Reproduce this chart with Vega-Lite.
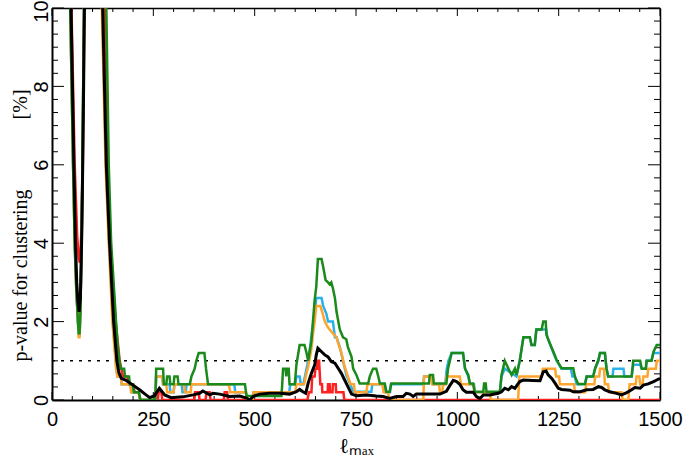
{
  "$schema": "https://vega.github.io/schema/vega-lite/v6.json",
  "width": 608,
  "height": 392,
  "autosize": {"type": "none"},
  "padding": {"left": 52, "top": 8, "right": 29, "bottom": 66},
  "background": "white",
  "config": {"view": {"stroke": null}, "axis": {"domainColor": "black", "tickColor": "black", "labelColor": "black", "titleColor": "black", "grid": false}},
  "resolve": {"axis": {"x": "independent", "y": "independent"}},
  "datasets": {
    "xmaj": [{"t":0},{"t":250},{"t":500},{"t":750},{"t":1000},{"t":1250},{"t":1500}],
    "xmin": [{"t":50},{"t":100},{"t":150},{"t":200},{"t":300},{"t":350},{"t":400},{"t":450},{"t":550},{"t":600},{"t":650},{"t":700},{"t":800},{"t":850},{"t":900},{"t":950},{"t":1050},{"t":1100},{"t":1150},{"t":1200},{"t":1300},{"t":1350},{"t":1400},{"t":1450}],
    "ymaj": [{"v":0},{"v":2},{"v":4},{"v":6},{"v":8},{"v":10}],
    "ymin": [{"v":0.3333},{"v":0.6667},{"v":1},{"v":1.3333},{"v":1.6667},{"v":2.3333},{"v":2.6667},{"v":3},{"v":3.3333},{"v":3.6667},{"v":4.3333},{"v":4.6667},{"v":5},{"v":5.3333},{"v":5.6667},{"v":6.3333},{"v":6.6667},{"v":7},{"v":7.3333},{"v":7.6667},{"v":8.3333},{"v":8.6667},{"v":9},{"v":9.3333},{"v":9.6667}],
    "ref": [{"l": 0, "p": 1}, {"l": 1500, "p": 1}],
    "red": [{"l":40,"p":14},{"l":48,"p":10},{"l":56,"p":6},{"l":62,"p":4.2},{"l":66,"p":3.6},{"l":69,"p":3.5},{"l":72,"p":4.2},{"l":76,"p":6},{"l":80,"p":10},{"l":84,"p":14},{"l":125,"p":14},{"l":130,"p":10},{"l":138,"p":6},{"l":144,"p":4},{"l":157,"p":2},{"l":163,"p":1.4},{"l":167,"p":1.0},{"l":171,"p":0.8},{"l":175,"p":0.6},{"l":186,"p":0.6},{"l":190,"p":0.4},{"l":200,"p":0.4},{"l":204,"p":0.2},{"l":214,"p":0.2},{"l":218,"p":0},{"l":261,"p":0},{"l":263,"p":0.2},{"l":270,"p":0.2},{"l":272,"p":0},{"l":351,"p":0},{"l":353,"p":0.2},{"l":362,"p":0.2},{"l":364,"p":0},{"l":379,"p":0},{"l":381,"p":0.2},{"l":389,"p":0.2},{"l":391,"p":0},{"l":424,"p":0},{"l":426,"p":0.2},{"l":432,"p":0.2},{"l":434,"p":0},{"l":630,"p":0},{"l":634,"p":0.2},{"l":640,"p":0.2},{"l":642,"p":0.6},{"l":648,"p":0.6},{"l":650,"p":0.8},{"l":654,"p":0.8},{"l":655,"p":1.0},{"l":659,"p":1.0},{"l":660,"p":0.8},{"l":662,"p":0.4},{"l":666,"p":0.4},{"l":667,"p":0.2},{"l":680,"p":0.2},{"l":681,"p":0.4},{"l":685,"p":0.4},{"l":686,"p":0.2},{"l":692,"p":0.2},{"l":693,"p":0.4},{"l":700,"p":0.4},{"l":701,"p":0.2},{"l":719,"p":0.2},{"l":721,"p":0},{"l":1500,"p":0}],
    "blue": [{"l":40,"p":14},{"l":45,"p":10},{"l":52,"p":6},{"l":56,"p":4},{"l":60,"p":2.8},{"l":64,"p":2.0},{"l":66,"p":1.65},{"l":68,"p":1.65},{"l":70,"p":2.2},{"l":73,"p":4},{"l":76,"p":7},{"l":79,"p":10},{"l":83,"p":14},{"l":119,"p":14},{"l":124,"p":10},{"l":133,"p":6},{"l":141,"p":4},{"l":150,"p":2},{"l":156,"p":1.2},{"l":159,"p":0.8},{"l":162,"p":0.6},{"l":170,"p":0.6},{"l":172,"p":0.4},{"l":195,"p":0.4},{"l":197,"p":0.2},{"l":214,"p":0.2},{"l":218,"p":0},{"l":255,"p":0},{"l":257,"p":0.6},{"l":272,"p":0.6},{"l":274,"p":0.4},{"l":290,"p":0.4},{"l":292,"p":0.2},{"l":300,"p":0.2},{"l":302,"p":0.4},{"l":320,"p":0.4},{"l":322,"p":0.2},{"l":330,"p":0.2},{"l":332,"p":0.4},{"l":450,"p":0.4},{"l":452,"p":0.2},{"l":478,"p":0.2},{"l":482,"p":0},{"l":495,"p":0},{"l":497,"p":0.2},{"l":585,"p":0.2},{"l":588,"p":0.4},{"l":600,"p":0.4},{"l":603,"p":0.6},{"l":611,"p":0.6},{"l":614,"p":0.4},{"l":620,"p":0.4},{"l":624,"p":0.6},{"l":630,"p":0.9},{"l":636,"p":1.3},{"l":641,"p":1.7},{"l":645,"p":2.0},{"l":648,"p":2.2},{"l":652,"p":2.6},{"l":665,"p":2.6},{"l":669,"p":2.4},{"l":677,"p":2.2},{"l":681,"p":2.0},{"l":693,"p":2.0},{"l":698,"p":1.6},{"l":702,"p":1.6},{"l":710,"p":1.35},{"l":718,"p":1.0},{"l":726,"p":0.64},{"l":735,"p":0.42},{"l":743,"p":0.21},{"l":788,"p":0.21},{"l":790,"p":0.4},{"l":820,"p":0.4},{"l":822,"p":0.2},{"l":834,"p":0.2},{"l":836,"p":0.4},{"l":916,"p":0.4},{"l":918,"p":0.6},{"l":936,"p":0.6},{"l":940,"p":0.4},{"l":970,"p":0.4},{"l":974,"p":0.8},{"l":978,"p":1.0},{"l":986,"p":1.2},{"l":1014,"p":1.2},{"l":1019,"p":0.8},{"l":1027,"p":0.6},{"l":1031,"p":0.4},{"l":1041,"p":0.4},{"l":1043,"p":0.2},{"l":1105,"p":0.2},{"l":1109,"p":0.6},{"l":1117,"p":0.8},{"l":1146,"p":0.6},{"l":1154,"p":1.0},{"l":1163,"p":1.6},{"l":1179,"p":1.6},{"l":1183,"p":1.4},{"l":1191,"p":1.4},{"l":1195,"p":1.8},{"l":1219,"p":1.8},{"l":1222,"p":1.6},{"l":1228,"p":1.45},{"l":1237,"p":1.2},{"l":1245,"p":1.0},{"l":1257,"p":0.8},{"l":1280,"p":0.8},{"l":1284,"p":0.6},{"l":1290,"p":0.6},{"l":1294,"p":0.4},{"l":1315,"p":0.4},{"l":1319,"p":0.6},{"l":1335,"p":0.6},{"l":1340,"p":0.8},{"l":1348,"p":1.0},{"l":1352,"p":1.2},{"l":1364,"p":1.2},{"l":1368,"p":0.8},{"l":1372,"p":0.6},{"l":1383,"p":0.6},{"l":1385,"p":0.8},{"l":1410,"p":0.8},{"l":1412,"p":0.6},{"l":1430,"p":0.6},{"l":1434,"p":0.9},{"l":1451,"p":0.9},{"l":1455,"p":0.8},{"l":1465,"p":0.8},{"l":1467,"p":1.0},{"l":1479,"p":1.0},{"l":1484,"p":1.2},{"l":1500,"p":1.2}],
    "orange": [{"l":40,"p":14},{"l":45,"p":10},{"l":52,"p":6},{"l":56,"p":4},{"l":60,"p":2.8},{"l":64,"p":2.0},{"l":66,"p":1.6},{"l":68,"p":1.6},{"l":70,"p":2.2},{"l":73,"p":4},{"l":76,"p":7},{"l":79,"p":10},{"l":83,"p":14},{"l":118,"p":14},{"l":123,"p":10},{"l":132,"p":6},{"l":140,"p":4},{"l":149,"p":2},{"l":155,"p":1.2},{"l":158,"p":0.8},{"l":161,"p":0.6},{"l":170,"p":0.6},{"l":172,"p":0.4},{"l":193,"p":0.4},{"l":195,"p":0.2},{"l":214,"p":0.2},{"l":217,"p":0},{"l":255,"p":0},{"l":257,"p":0.6},{"l":272,"p":0.6},{"l":274,"p":0.4},{"l":282,"p":0.4},{"l":284,"p":0.2},{"l":300,"p":0.2},{"l":302,"p":0.4},{"l":326,"p":0.4},{"l":328,"p":0.2},{"l":342,"p":0.2},{"l":344,"p":0.4},{"l":436,"p":0.4},{"l":440,"p":0.2},{"l":478,"p":0.2},{"l":482,"p":0},{"l":495,"p":0},{"l":497,"p":0.2},{"l":600,"p":0.2},{"l":603,"p":0.4},{"l":622,"p":0.4},{"l":626,"p":0.6},{"l":632,"p":0.85},{"l":640,"p":1.3},{"l":644,"p":1.7},{"l":648,"p":2.0},{"l":652,"p":2.4},{"l":662,"p":2.4},{"l":668,"p":2.2},{"l":673,"p":2.0},{"l":681,"p":1.85},{"l":693,"p":1.7},{"l":702,"p":1.6},{"l":706,"p":1.45},{"l":714,"p":1.2},{"l":722,"p":0.85},{"l":730,"p":0.6},{"l":737,"p":0.4},{"l":745,"p":0.4},{"l":747,"p":0.2},{"l":776,"p":0.2},{"l":778,"p":0.4},{"l":815,"p":0.4},{"l":818,"p":0.2},{"l":829,"p":0.2},{"l":832,"p":0},{"l":916,"p":0},{"l":918,"p":0.6},{"l":936,"p":0.6},{"l":938,"p":0.4},{"l":955,"p":0.4},{"l":957,"p":0.2},{"l":963,"p":0.2},{"l":965,"p":0.4},{"l":971,"p":0.4},{"l":973,"p":0.6},{"l":1006,"p":0.6},{"l":1009,"p":0.4},{"l":1039,"p":0.4},{"l":1042,"p":0.2},{"l":1080,"p":0.2},{"l":1083,"p":0},{"l":1150,"p":0},{"l":1153,"p":0.6},{"l":1208,"p":0.6},{"l":1211,"p":0.8},{"l":1241,"p":0.8},{"l":1244,"p":0.6},{"l":1251,"p":0.6},{"l":1253,"p":0.4},{"l":1288,"p":0.4},{"l":1290,"p":0.2},{"l":1315,"p":0.2},{"l":1318,"p":0.4},{"l":1338,"p":0.4},{"l":1340,"p":0.6},{"l":1350,"p":0.6},{"l":1352,"p":0.8},{"l":1362,"p":0.8},{"l":1364,"p":0.4},{"l":1372,"p":0.4},{"l":1374,"p":0.2},{"l":1405,"p":0.2},{"l":1408,"p":0},{"l":1422,"p":0},{"l":1425,"p":0.4},{"l":1440,"p":0.4},{"l":1442,"p":0.6},{"l":1449,"p":0.6},{"l":1451,"p":0.4},{"l":1457,"p":0.4},{"l":1459,"p":0.6},{"l":1469,"p":0.6},{"l":1471,"p":0.8},{"l":1490,"p":0.8},{"l":1492,"p":1.0},{"l":1500,"p":1.0}],
    "green": [{"l":40,"p":14},{"l":45,"p":10},{"l":52,"p":6},{"l":56,"p":4},{"l":60,"p":2.8},{"l":64,"p":2.0},{"l":66,"p":1.7},{"l":68,"p":1.7},{"l":70,"p":2.2},{"l":73,"p":4},{"l":76,"p":7},{"l":79,"p":10},{"l":83,"p":14},{"l":125,"p":14},{"l":134,"p":10},{"l":140,"p":6},{"l":146,"p":4},{"l":158,"p":2},{"l":162,"p":1.4},{"l":166,"p":1.0},{"l":170,"p":0.8},{"l":178,"p":0.8},{"l":180,"p":0.6},{"l":190,"p":0.6},{"l":192,"p":0.4},{"l":200,"p":0.4},{"l":202,"p":0.2},{"l":214,"p":0.2},{"l":218,"p":0},{"l":255,"p":0},{"l":257,"p":0.8},{"l":274,"p":0.8},{"l":276,"p":0.4},{"l":282,"p":0.4},{"l":284,"p":0.6},{"l":290,"p":0.6},{"l":292,"p":0.4},{"l":300,"p":0.4},{"l":302,"p":0.6},{"l":310,"p":0.6},{"l":312,"p":0.4},{"l":340,"p":0.4},{"l":344,"p":0.6},{"l":352,"p":0.8},{"l":356,"p":1.0},{"l":362,"p":1.2},{"l":376,"p":1.2},{"l":380,"p":0.8},{"l":385,"p":0.4},{"l":476,"p":0.4},{"l":480,"p":0.1},{"l":566,"p":0.1},{"l":568,"p":0.4},{"l":570,"p":0.8},{"l":576,"p":0.8},{"l":578,"p":0.6},{"l":580,"p":0.8},{"l":584,"p":0.8},{"l":586,"p":0.4},{"l":599,"p":0.4},{"l":603,"p":0.9},{"l":611,"p":1.4},{"l":623,"p":1.4},{"l":628,"p":1.2},{"l":632,"p":1.0},{"l":640,"p":1.5},{"l":648,"p":2.55},{"l":652,"p":2.9},{"l":656,"p":3.6},{"l":665,"p":3.6},{"l":669,"p":3.4},{"l":675,"p":3.06},{"l":681,"p":3.0},{"l":685,"p":2.95},{"l":689,"p":3.0},{"l":693,"p":2.85},{"l":698,"p":2.6},{"l":702,"p":2.25},{"l":710,"p":1.8},{"l":718,"p":1.6},{"l":726,"p":1.55},{"l":730,"p":1.35},{"l":739,"p":1.1},{"l":743,"p":0.8},{"l":751,"p":0.64},{"l":759,"p":0.42},{"l":780,"p":0.42},{"l":784,"p":0.6},{"l":792,"p":0.8},{"l":800,"p":0.8},{"l":805,"p":0.6},{"l":809,"p":0.42},{"l":821,"p":0.42},{"l":825,"p":0.21},{"l":833,"p":0.21},{"l":837,"p":0.42},{"l":930,"p":0.42},{"l":932,"p":0.64},{"l":940,"p":0.64},{"l":942,"p":0.42},{"l":973,"p":0.42},{"l":977,"p":0.8},{"l":986,"p":1.2},{"l":1014,"p":1.2},{"l":1019,"p":0.8},{"l":1027,"p":0.64},{"l":1031,"p":0.42},{"l":1039,"p":0.42},{"l":1043,"p":0.21},{"l":1064,"p":0.21},{"l":1066,"p":0.42},{"l":1070,"p":0.42},{"l":1072,"p":0.21},{"l":1105,"p":0.21},{"l":1109,"p":0.64},{"l":1117,"p":1.0},{"l":1126,"p":0.8},{"l":1134,"p":0.64},{"l":1142,"p":0.8},{"l":1146,"p":0.64},{"l":1154,"p":1.0},{"l":1163,"p":1.6},{"l":1179,"p":1.6},{"l":1183,"p":1.4},{"l":1191,"p":1.4},{"l":1195,"p":1.8},{"l":1208,"p":1.8},{"l":1212,"p":2.0},{"l":1218,"p":2.0},{"l":1220,"p":1.66},{"l":1228,"p":1.45},{"l":1237,"p":1.23},{"l":1245,"p":1.02},{"l":1257,"p":0.81},{"l":1286,"p":0.81},{"l":1290,"p":0.6},{"l":1298,"p":0.41},{"l":1315,"p":0.41},{"l":1319,"p":0.6},{"l":1335,"p":0.6},{"l":1340,"p":0.81},{"l":1348,"p":1.02},{"l":1352,"p":1.2},{"l":1364,"p":1.2},{"l":1368,"p":0.81},{"l":1372,"p":0.6},{"l":1430,"p":0.6},{"l":1434,"p":1.0},{"l":1451,"p":1.0},{"l":1455,"p":0.8},{"l":1465,"p":0.8},{"l":1467,"p":1.0},{"l":1479,"p":1.0},{"l":1484,"p":1.23},{"l":1492,"p":1.4},{"l":1500,"p":1.4}],
    "black": [{"l":40,"p":14},{"l":47,"p":10},{"l":54,"p":6},{"l":58,"p":4},{"l":61,"p":3},{"l":64,"p":2.5},{"l":67,"p":2.25},{"l":70,"p":2.6},{"l":74,"p":4.5},{"l":77,"p":7},{"l":80,"p":10},{"l":84,"p":14},{"l":118,"p":14},{"l":125,"p":10},{"l":134,"p":6},{"l":142,"p":4},{"l":152,"p":2},{"l":160,"p":1.0},{"l":165,"p":0.7},{"l":171,"p":0.55},{"l":183,"p":0.5},{"l":200,"p":0.38},{"l":216,"p":0.26},{"l":232,"p":0.13},{"l":241,"p":0.06},{"l":253,"p":0.11},{"l":265,"p":0.3},{"l":278,"p":0.13},{"l":294,"p":0.06},{"l":323,"p":0.08},{"l":348,"p":0.13},{"l":364,"p":0.17},{"l":372,"p":0.23},{"l":389,"p":0.13},{"l":397,"p":0.17},{"l":414,"p":0.15},{"l":438,"p":0.09},{"l":463,"p":0.1},{"l":480,"p":0.05},{"l":488,"p":0.0},{"l":496,"p":0.09},{"l":512,"p":0.15},{"l":537,"p":0.17},{"l":562,"p":0.17},{"l":586,"p":0.15},{"l":603,"p":0.21},{"l":611,"p":0.27},{"l":619,"p":0.21},{"l":626,"p":0.17},{"l":632,"p":0.43},{"l":640,"p":0.68},{"l":648,"p":0.89},{"l":652,"p":1.15},{"l":656,"p":1.32},{"l":665,"p":1.23},{"l":673,"p":1.15},{"l":681,"p":1.1},{"l":689,"p":0.98},{"l":698,"p":0.94},{"l":706,"p":0.81},{"l":714,"p":0.68},{"l":722,"p":0.51},{"l":730,"p":0.34},{"l":739,"p":0.15},{"l":751,"p":0.11},{"l":776,"p":0.13},{"l":800,"p":0.1},{"l":817,"p":0.09},{"l":833,"p":0.04},{"l":850,"p":0.09},{"l":866,"p":0.09},{"l":874,"p":0.17},{"l":883,"p":0.15},{"l":891,"p":0.09},{"l":899,"p":0.15},{"l":932,"p":0.15},{"l":957,"p":0.15},{"l":973,"p":0.22},{"l":981,"p":0.36},{"l":990,"p":0.5},{"l":998,"p":0.47},{"l":1006,"p":0.4},{"l":1014,"p":0.26},{"l":1022,"p":0.2},{"l":1039,"p":0.2},{"l":1047,"p":0.09},{"l":1056,"p":0.04},{"l":1064,"p":0.13},{"l":1080,"p":0.13},{"l":1101,"p":0.17},{"l":1109,"p":0.21},{"l":1117,"p":0.3},{"l":1126,"p":0.26},{"l":1134,"p":0.34},{"l":1142,"p":0.3},{"l":1154,"p":0.47},{"l":1163,"p":0.51},{"l":1185,"p":0.5},{"l":1204,"p":0.49},{"l":1212,"p":0.72},{"l":1219,"p":0.74},{"l":1224,"p":0.64},{"l":1233,"p":0.55},{"l":1241,"p":0.43},{"l":1249,"p":0.3},{"l":1257,"p":0.27},{"l":1278,"p":0.25},{"l":1286,"p":0.21},{"l":1303,"p":0.21},{"l":1319,"p":0.26},{"l":1335,"p":0.27},{"l":1348,"p":0.34},{"l":1356,"p":0.32},{"l":1364,"p":0.26},{"l":1376,"p":0.21},{"l":1393,"p":0.17},{"l":1405,"p":0.13},{"l":1418,"p":0.19},{"l":1430,"p":0.26},{"l":1438,"p":0.32},{"l":1451,"p":0.3},{"l":1459,"p":0.38},{"l":1471,"p":0.41},{"l":1484,"p":0.47},{"l":1492,"p":0.51},{"l":1500,"p":0.55}]
  },
  "layer": [
    {
      "data": {"name": "xmaj"},
      "mark": {"type": "rule", "color": "black", "strokeWidth": 1},
      "encoding": {
        "x": {"field": "t", "type": "quantitative", "scale": {"domain": [0, 1500], "nice": false, "zero": false}, "axis": null},
        "y": {"datum": 0, "type": "quantitative", "scale": {"domain": [0, 10], "nice": false}, "axis": null},
        "y2": {"datum": 0.204}
      }
    },
    {
      "data": {"name": "xmaj"},
      "mark": {"type": "rule", "color": "black", "strokeWidth": 1},
      "encoding": {
        "x": {"field": "t", "type": "quantitative", "scale": {"domain": [0, 1500], "nice": false, "zero": false}, "axis": null},
        "y": {"datum": 10, "type": "quantitative", "scale": {"domain": [0, 10], "nice": false}, "axis": null},
        "y2": {"datum": 9.796}
      }
    },
    {
      "data": {"name": "xmin"},
      "mark": {"type": "rule", "color": "black", "strokeWidth": 1},
      "encoding": {
        "x": {"field": "t", "type": "quantitative", "scale": {"domain": [0, 1500], "nice": false, "zero": false}, "axis": null},
        "y": {"datum": 0, "type": "quantitative", "scale": {"domain": [0, 10], "nice": false}, "axis": null},
        "y2": {"datum": 0.102}
      }
    },
    {
      "data": {"name": "xmin"},
      "mark": {"type": "rule", "color": "black", "strokeWidth": 1},
      "encoding": {
        "x": {"field": "t", "type": "quantitative", "scale": {"domain": [0, 1500], "nice": false, "zero": false}, "axis": null},
        "y": {"datum": 10, "type": "quantitative", "scale": {"domain": [0, 10], "nice": false}, "axis": null},
        "y2": {"datum": 9.898}
      }
    },
    {
      "data": {"name": "ymaj"},
      "mark": {"type": "rule", "color": "black", "strokeWidth": 1},
      "encoding": {
        "y": {"field": "v", "type": "quantitative", "scale": {"domain": [0, 10], "nice": false}, "axis": null},
        "x": {"datum": 0, "type": "quantitative", "scale": {"domain": [0, 1500], "nice": false, "zero": false}, "axis": null},
        "x2": {"datum": 29.6}
      }
    },
    {
      "data": {"name": "ymaj"},
      "mark": {"type": "rule", "color": "black", "strokeWidth": 1},
      "encoding": {
        "y": {"field": "v", "type": "quantitative", "scale": {"domain": [0, 10], "nice": false}, "axis": null},
        "x": {"datum": 1500, "type": "quantitative", "scale": {"domain": [0, 1500], "nice": false, "zero": false}, "axis": null},
        "x2": {"datum": 1470.4}
      }
    },
    {
      "data": {"name": "ymin"},
      "mark": {"type": "rule", "color": "black", "strokeWidth": 1},
      "encoding": {
        "y": {"field": "v", "type": "quantitative", "scale": {"domain": [0, 10], "nice": false}, "axis": null},
        "x": {"datum": 0, "type": "quantitative", "scale": {"domain": [0, 1500], "nice": false, "zero": false}, "axis": null},
        "x2": {"datum": 14.8}
      }
    },
    {
      "data": {"name": "ymin"},
      "mark": {"type": "rule", "color": "black", "strokeWidth": 1},
      "encoding": {
        "y": {"field": "v", "type": "quantitative", "scale": {"domain": [0, 10], "nice": false}, "axis": null},
        "x": {"datum": 1500, "type": "quantitative", "scale": {"domain": [0, 1500], "nice": false, "zero": false}, "axis": null},
        "x2": {"datum": 1485.2}
      }
    },
    {
      "data": {"name": "ref"},
      "mark": {"type": "line", "color": "black", "strokeWidth": 1.5, "strokeDash": [3, 6], "clip": true},
      "encoding": {
        "x": {"field": "l", "type": "quantitative", "scale": {"domain": [0, 1500], "nice": false, "zero": false},
          "axis": {"orient": "bottom", "ticks": false, "domain": true, "domainWidth": 2, "values": [0, 250, 500, 750, 1000, 1250, 1500], "format": "d", "labelFont": "Liberation Sans", "labelFontSize": 20, "labelPadding": 9, "labelFlush": false, "labelOverlap": false,
            "title": "ℓₘₐₓ", "titleFont": "Liberation Serif", "titleFontSize": 21, "titleFontWeight": "normal", "titleX": 304, "titleY": 52, "titleBaseline": "alphabetic", "titleAlign": "center"}},
        "y": {"field": "p", "type": "quantitative", "scale": {"domain": [0, 10], "nice": false},
          "axis": {"orient": "left", "ticks": false, "domain": true, "domainWidth": 2, "values": [0, 2, 4, 6, 8, 10], "format": "d", "labelAngle": 270, "labelAlign": "center", "labelBaseline": "alphabetic", "labelPadding": 5, "labelOffset": {"condition": {"test": "datum.value == 10", "value": 3}, "value": 0}, "labelFont": "Liberation Sans", "labelFontSize": 20, "labelFlush": false, "labelOverlap": false,
            "title": "p-value for clustering\u2003\u2003\u2003\u2002[%]", "titleFont": "Liberation Serif", "titleFontSize": 20, "titleFontWeight": "normal", "titleAngle": 270, "titleX": -26, "titleY": 217, "titleAlign": "center", "titleBaseline": "alphabetic"}}
      }
    },
    {
      "data": {"name": "red"},
      "mark": {"type": "line", "color": "#ff2020", "strokeWidth": 2.5, "clip": true},
      "encoding": {
        "x": {"field": "l", "type": "quantitative", "scale": {"domain": [0, 1500], "nice": false, "zero": false},
          "axis": {"orient": "top", "ticks": false, "labels": false, "domain": true, "domainWidth": 1.5, "title": null}},
        "y": {"field": "p", "type": "quantitative", "scale": {"domain": [0, 10], "nice": false},
          "axis": {"orient": "right", "ticks": false, "labels": false, "domain": true, "domainWidth": 1.5, "title": null}}
      }
    },
    {
      "data": {"name": "blue"},
      "mark": {"type": "line", "color": "#2bb1ea", "strokeWidth": 2.5, "clip": true},
      "encoding": {
        "x": {"field": "l", "type": "quantitative", "scale": {"domain": [0, 1500], "nice": false, "zero": false}, "axis": null},
        "y": {"field": "p", "type": "quantitative", "scale": {"domain": [0, 10], "nice": false}, "axis": null}
      }
    },
    {
      "data": {"name": "orange"},
      "mark": {"type": "line", "color": "#ffa42c", "strokeWidth": 2.5, "clip": true},
      "encoding": {
        "x": {"field": "l", "type": "quantitative", "scale": {"domain": [0, 1500], "nice": false, "zero": false}, "axis": null},
        "y": {"field": "p", "type": "quantitative", "scale": {"domain": [0, 10], "nice": false}, "axis": null}
      }
    },
    {
      "data": {"name": "green"},
      "mark": {"type": "line", "color": "#1a8a1a", "strokeWidth": 2.5, "clip": true},
      "encoding": {
        "x": {"field": "l", "type": "quantitative", "scale": {"domain": [0, 1500], "nice": false, "zero": false}, "axis": null},
        "y": {"field": "p", "type": "quantitative", "scale": {"domain": [0, 10], "nice": false}, "axis": null}
      }
    },
    {
      "data": {"name": "black"},
      "mark": {"type": "line", "color": "black", "strokeWidth": 3, "clip": true},
      "encoding": {
        "x": {"field": "l", "type": "quantitative", "scale": {"domain": [0, 1500], "nice": false, "zero": false}, "axis": null},
        "y": {"field": "p", "type": "quantitative", "scale": {"domain": [0, 10], "nice": false}, "axis": null}
      }
    }
  ]
}
